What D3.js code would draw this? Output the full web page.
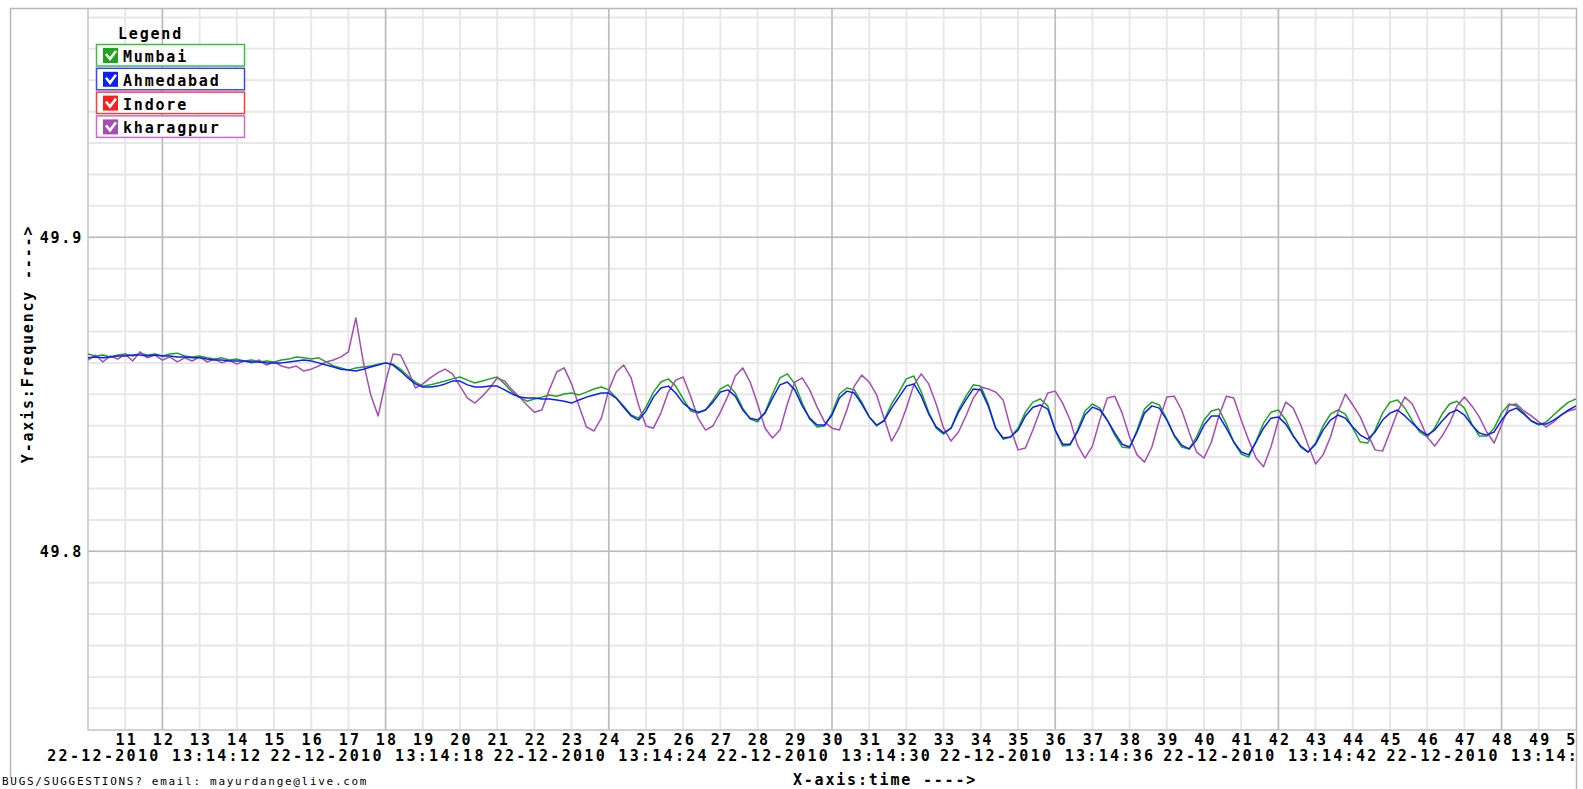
<!DOCTYPE html>
<html>
<head>
<meta charset="utf-8">
<script src="https://cdn.jsdelivr.net/npm/d3@7"></script>
<style>
  body { margin: 0; background: #fff; }
  svg text { font-family: "DejaVu Sans Mono", monospace; font-weight: bold; fill: #000; }
</style>
</head>
<body>
<script>
// samples start at this time, one every 0.2 s
var startTime = "22-12-2010 13:14:10";
var stepMs = 200;

var mumbai = [
  49.8628, 49.8622, 49.8625, 49.8619, 49.8625, 49.8628, 49.8622, 49.8631, 49.8625, 49.8628,
  49.8622, 49.8628, 49.8631, 49.8622, 49.8619, 49.8622, 49.8616, 49.8612, 49.8616, 49.8609,
  49.8612, 49.8606, 49.8609, 49.8603, 49.8606, 49.8603, 49.8609, 49.8612, 49.8619, 49.8616,
  49.8612, 49.8616, 49.8603, 49.8590, 49.8584, 49.8577, 49.8584, 49.8587, 49.8590, 49.8596,
  49.8600, 49.8596, 49.8580, 49.8558, 49.8539, 49.8526, 49.8530, 49.8536, 49.8542, 49.8549,
  49.8555, 49.8545, 49.8536, 49.8542, 49.8549, 49.8555, 49.8533, 49.8507, 49.8491, 49.8478,
  49.8485, 49.8491, 49.8498, 49.8494, 49.8501, 49.8504, 49.8498, 49.8507, 49.8517, 49.8523,
  49.8514, 49.8488, 49.8463, 49.8434, 49.8424, 49.8459, 49.8507, 49.8539, 49.8549, 49.8526,
  49.8485, 49.8447, 49.8440, 49.8450, 49.8482, 49.8517, 49.8530, 49.8504, 49.8456, 49.8421,
  49.8412, 49.8443, 49.8501, 49.8552, 49.8565, 49.8533, 49.8472, 49.8421, 49.8396, 49.8399,
  49.8440, 49.8501, 49.8520, 49.8514, 49.8475, 49.8428, 49.8399, 49.8418, 49.8469, 49.8507,
  49.8549, 49.8558, 49.8507, 49.8443, 49.8392, 49.8373, 49.8392, 49.8450, 49.8494, 49.8530,
  49.8526, 49.8469, 49.8392, 49.8357, 49.8364, 49.8392, 49.8443, 49.8475, 49.8485, 49.8463,
  49.8386, 49.8335, 49.8338, 49.8386, 49.8447, 49.8469, 49.8456, 49.8418, 49.8370, 49.8332,
  49.8329, 49.8386, 49.8453, 49.8475, 49.8466, 49.8421, 49.8367, 49.8332, 49.8326, 49.8364,
  49.8418, 49.8447, 49.8453, 49.8405, 49.8348, 49.8310, 49.8300, 49.8351, 49.8408, 49.8443,
  49.8450, 49.8418, 49.8367, 49.8332, 49.8316, 49.8345, 49.8399, 49.8437, 49.8450, 49.8437,
  49.8392, 49.8348, 49.8345, 49.8386, 49.8440, 49.8475, 49.8482, 49.8456, 49.8415, 49.8380,
  49.8364, 49.8392, 49.8437, 49.8469, 49.8478, 49.8456, 49.8405, 49.8367, 49.8367, 49.8392,
  49.8440, 49.8469, 49.8463, 49.8440, 49.8415, 49.8402, 49.8412, 49.8434, 49.8456, 49.8475,
  49.8485
];

var ahmedabad = [
  49.8616, 49.8619, 49.8616, 49.8619, 49.8622, 49.8622, 49.8625, 49.8625, 49.8622, 49.8625,
  49.8622, 49.8622, 49.8619, 49.8619, 49.8616, 49.8616, 49.8612, 49.8609, 49.8609, 49.8606,
  49.8606, 49.8606, 49.8603, 49.8603, 49.8600, 49.8600, 49.8600, 49.8603, 49.8606, 49.8609,
  49.8606, 49.8600, 49.8593, 49.8587, 49.8580, 49.8577, 49.8574, 49.8580, 49.8587, 49.8593,
  49.8600, 49.8593, 49.8574, 49.8552, 49.8533, 49.8523, 49.8523, 49.8526, 49.8533, 49.8542,
  49.8542, 49.8530, 49.8523, 49.8523, 49.8526, 49.8526, 49.8514, 49.8501, 49.8491, 49.8488,
  49.8488, 49.8485, 49.8485, 49.8482, 49.8478, 49.8472, 49.8482, 49.8491, 49.8498, 49.8504,
  49.8504, 49.8488, 49.8459, 49.8431, 49.8418, 49.8447, 49.8491, 49.8520, 49.8526, 49.8504,
  49.8472, 49.8453, 49.8443, 49.8450, 49.8475, 49.8507, 49.8514, 49.8494, 49.8450, 49.8424,
  49.8418, 49.8440, 49.8488, 49.8530, 49.8539, 49.8514, 49.8463, 49.8424, 49.8402, 49.8402,
  49.8434, 49.8488, 49.8510, 49.8504, 49.8469, 49.8428, 49.8402, 49.8415, 49.8456, 49.8491,
  49.8526, 49.8533, 49.8494, 49.8437, 49.8396, 49.8377, 49.8392, 49.8443, 49.8482, 49.8517,
  49.8514, 49.8463, 49.8392, 49.8361, 49.8364, 49.8386, 49.8431, 49.8459, 49.8466, 49.8453,
  49.8386, 49.8341, 49.8341, 49.8380, 49.8434, 49.8459, 49.8450, 49.8418, 49.8377, 49.8341,
  49.8332, 49.8380, 49.8440, 49.8463, 49.8456, 49.8418, 49.8370, 49.8338, 49.8326, 49.8354,
  49.8402, 49.8431, 49.8431, 49.8392, 49.8348, 49.8316, 49.8307, 49.8348, 49.8392, 49.8424,
  49.8428, 49.8405, 49.8367, 49.8335, 49.8316, 49.8341, 49.8386, 49.8418, 49.8434, 49.8424,
  49.8396, 49.8370, 49.8357, 49.8380, 49.8418, 49.8440, 49.8450, 49.8431, 49.8408, 49.8386,
  49.8370, 49.8386, 49.8415, 49.8440, 49.8450, 49.8434, 49.8402, 49.8377, 49.8370, 49.8380,
  49.8418, 49.8447, 49.8456, 49.8437, 49.8415, 49.8405, 49.8405, 49.8418, 49.8434, 49.8450,
  49.8463
];

var indore = [];

var kharagpur = [
  49.8609, 49.8625, 49.8603, 49.8622, 49.8612, 49.8628, 49.8606, 49.8635, 49.8616, 49.8625,
  49.8609, 49.8619, 49.8603, 49.8616, 49.8606, 49.8619, 49.8603, 49.8612, 49.8600, 49.8609,
  49.8596, 49.8606, 49.8600, 49.8609, 49.8593, 49.8603, 49.8590, 49.8584, 49.8590, 49.8574,
  49.8580, 49.8590, 49.8603, 49.8609, 49.8619, 49.8635, 49.8743, 49.8603, 49.8498, 49.8431,
  49.8539, 49.8628, 49.8625, 49.8577, 49.8520, 49.8533, 49.8552, 49.8568, 49.8580, 49.8565,
  49.8526, 49.8488, 49.8472, 49.8494, 49.8520, 49.8552, 49.8542, 49.8514, 49.8491, 49.8466,
  49.8443, 49.8450, 49.8514, 49.8571, 49.8584, 49.8533, 49.8463, 49.8396, 49.8383, 49.8424,
  49.8514, 49.8571, 49.8593, 49.8552, 49.8466, 49.8399, 49.8392, 49.8440, 49.8507, 49.8545,
  49.8555, 49.8494, 49.8424, 49.8386, 49.8399, 49.8443, 49.8494, 49.8558, 49.8584, 49.8539,
  49.8469, 49.8392, 49.8361, 49.8386, 49.8469, 49.8539, 49.8552, 49.8514, 49.8459, 49.8412,
  49.8392, 49.8386, 49.8450, 49.8526, 49.8561, 49.8539, 49.8498, 49.8424, 49.8351, 49.8392,
  49.8456, 49.8530, 49.8565, 49.8533, 49.8469, 49.8392, 49.8351, 49.8380, 49.8431, 49.8488,
  49.8523, 49.8517, 49.8507, 49.8482, 49.8392, 49.8323, 49.8329, 49.8386, 49.8450, 49.8504,
  49.8510, 49.8472, 49.8418, 49.8338, 49.8297, 49.8335, 49.8418, 49.8488, 49.8494, 49.8440,
  49.8364, 49.8307, 49.8284, 49.8332, 49.8418, 49.8491, 49.8494, 49.8450, 49.8380, 49.8316,
  49.8297, 49.8348, 49.8431, 49.8494, 49.8488, 49.8418, 49.8354, 49.8297, 49.8269, 49.8332,
  49.8418, 49.8475, 49.8456, 49.8402, 49.8338, 49.8278, 49.8307, 49.8364, 49.8443, 49.8501,
  49.8466, 49.8428, 49.8373, 49.8323, 49.8319, 49.8380, 49.8443, 49.8491, 49.8469, 49.8418,
  49.8364, 49.8335, 49.8367, 49.8408, 49.8463, 49.8491, 49.8463, 49.8428, 49.8380, 49.8345,
  49.8402, 49.8466, 49.8469, 49.8447, 49.8431, 49.8412, 49.8396, 49.8412, 49.8434, 49.8447,
  49.8453
];

var seriesNames = ["Mumbai", "Ahmedabad", "Indore", "kharagpur"];
var seriesColors = ["#1ea51e", "#0a1eff", "#ff1e1e", "#a64db3"];
var legendBorders = ["#3cbf3c", "#3c46ff", "#ff3c3c", "#c070c8"];

// tick seconds (13:14:ss), date labels every 6 s
var secondTicks = [11, 12, 13, 14, 15, 16, 17, 18, 19, 20, 21, 22, 23, 24, 25, 26, 27, 28, 29, 30,
                   31, 32, 33, 34, 35, 36, 37, 38, 39, 40, 41, 42, 43, 44, 45, 46, 47, 48, 49, 50];
var dateTicks = [12, 18, 24, 30, 36, 42, 48];
var yLabels = [49.8, 49.9];

var margin = {top: 8, right: 7, bottom: 59, left: 88},
    W = 1583, H = 789,
    plotW = W - margin.left - margin.right,
    plotH = H - margin.top - margin.bottom;

var parseTime = d3.timeParse("%d-%m-%Y %H:%M:%S");
var t0 = parseTime(startTime);
function atSec(s) { return new Date(t0.getTime() + (s - 10) * 1000); }

var x = d3.scaleTime().domain([t0, atSec(50)]).range([margin.left, margin.left + plotW]);
var y = d3.scaleLinear().domain([49.7431, 49.9730]).range([margin.top + plotH, margin.top]);

var svg = d3.select("body").append("svg")
  .attr("width", W)
  .attr("height", H);

svg.append("rect").attr("width", W).attr("height", H).attr("fill", "#fff");

svg.append("clipPath").attr("id", "plotClip")
  .append("rect")
  .attr("x", margin.left).attr("y", margin.top)
  .attr("width", plotW).attr("height", plotH);

svg.append("clipPath").attr("id", "labelClip")
  .append("rect")
  .attr("x", 0).attr("y", 0)
  .attr("width", margin.left + plotW).attr("height", H);

//minor grid
var grid = svg.append("g");
grid.selectAll(".vminor")
  .data(secondTicks.slice(0, -1))
  .enter().append("line")
  .attr("x1", function(d) { return x(atSec(d)); })
  .attr("x2", function(d) { return x(atSec(d)); })
  .attr("y1", margin.top).attr("y2", margin.top + plotH)
  .attr("stroke", "#e8e8e8").attr("stroke-width", 2);

var hminor = d3.range(4975, 4998).map(function(d) { return d / 100; });
grid.selectAll(".hminor")
  .data(hminor)
  .enter().append("line")
  .attr("x1", margin.left).attr("x2", margin.left + plotW)
  .attr("y1", function(d) { return y(d); })
  .attr("y2", function(d) { return y(d); })
  .attr("stroke", "#e8e8e8").attr("stroke-width", 2);

//major grid
grid.selectAll(".vmajor")
  .data(dateTicks)
  .enter().append("line")
  .attr("x1", function(d) { return x(atSec(d)); })
  .attr("x2", function(d) { return x(atSec(d)); })
  .attr("y1", margin.top).attr("y2", margin.top + plotH)
  .attr("stroke", "#bcbcbc").attr("stroke-width", 1.5);

grid.selectAll(".hmajor")
  .data(yLabels)
  .enter().append("line")
  .attr("x1", margin.left).attr("x2", margin.left + plotW)
  .attr("y1", function(d) { return y(d); })
  .attr("y2", function(d) { return y(d); })
  .attr("stroke", "#bcbcbc").attr("stroke-width", 1.5);

//frames
svg.append("path")
  .attr("d", "M10.5,778 V8.5 H1576.5 V789")
  .attr("fill", "none").attr("stroke", "#b8b8b8").attr("stroke-width", 1.5);
svg.append("path")
  .attr("d", "M" + margin.left + "," + margin.top + " V" + (margin.top + plotH) + " H" + (margin.left + plotW))
  .attr("fill", "none").attr("stroke", "#c4c4c4").attr("stroke-width", 1.5);

//lines
var line = d3.line()
  .x(function(d, i) { return x(new Date(t0.getTime() + i * stepMs)); })
  .y(function(d) { return y(d); });

var drawOrder = [
  {data: mumbai, color: seriesColors[0]},
  {data: kharagpur, color: seriesColors[3]},
  {data: indore, color: seriesColors[2]},
  {data: ahmedabad, color: seriesColors[1]}
];
var lines = svg.append("g").attr("clip-path", "url(#plotClip)");
drawOrder.forEach(function(s) {
  if (!s.data.length) return;
  lines.append("path")
    .datum(s.data)
    .attr("fill", "none")
    .attr("stroke", s.color)
    .attr("stroke-width", 1.5)
    .attr("stroke-linejoin", "round")
    .attr("d", line);
});

//x axis: seconds row
var xSec = d3.axisBottom(x)
  .tickValues(secondTicks.map(atSec))
  .tickFormat(d3.timeFormat("%S"))
  .tickSize(0).tickPadding(0);
var gx1 = svg.append("g")
  .attr("clip-path", "url(#labelClip)")
  .attr("transform", "translate(0," + (margin.top + plotH) + ")")
  .call(xSec);
gx1.select(".domain").remove();
gx1.selectAll("text")
  .attr("y", 15).attr("dy", 0)
  .attr("dx", "1px")
  .style("font-family", "DejaVu Sans Mono")
  .style("font-weight", "bold")
  .style("font-size", "15px")
  .style("letter-spacing", "2.2px")
  .attr("fill", "#000");

//x axis: date row
var xDate = d3.axisBottom(x)
  .tickValues(dateTicks.map(atSec))
  .tickFormat(d3.timeFormat("%d-%m-%Y %H:%M:%S"))
  .tickSize(0).tickPadding(0);
var gx2 = svg.append("g")
  .attr("clip-path", "url(#labelClip)")
  .attr("transform", "translate(0," + (margin.top + plotH) + ")")
  .call(xDate);
gx2.select(".domain").remove();
gx2.selectAll("text")
  .attr("y", 31).attr("dy", 0)
  .attr("dx", "-8px")
  .style("font-family", "DejaVu Sans Mono")
  .style("font-weight", "bold")
  .style("font-size", "15px")
  .style("letter-spacing", "2.3px")
  .attr("fill", "#000");

//y axis
var gy = svg.append("g")
  .attr("transform", "translate(" + margin.left + ",0)")
  .call(d3.axisLeft(y).tickValues(yLabels).tickFormat(d3.format(".1f")).tickSize(0).tickPadding(5));
gy.select(".domain").remove();
gy.selectAll("text")
  .attr("dy", "0.36em")
  .style("font-family", "DejaVu Sans Mono")
  .style("font-weight", "bold")
  .style("font-size", "15px")
  .style("letter-spacing", "1.8px")
  .attr("fill", "#000");

//axis titles
svg.append("text")
  .attr("transform", "translate(33,344) rotate(-90)")
  .attr("text-anchor", "middle")
  .style("font-size", "15px")
  .style("letter-spacing", "1.8px")
  .text("Y-axis:Frequency ---->");

svg.append("text")
  .attr("x", 885).attr("y", 785)
  .attr("text-anchor", "middle")
  .style("font-size", "15px")
  .style("letter-spacing", "1.8px")
  .text("X-axis:time ---->");

svg.append("text")
  .attr("x", 2).attr("y", 785)
  .style("font-size", "11px")
  .style("font-weight", "normal")
  .style("letter-spacing", "1.7px")
  .text("BUGS/SUGGESTIONS? email: mayurdange@live.com");

//legend
var legend = svg.append("g").attr("transform", "translate(96,44)");
legend.append("text")
  .attr("x", 22).attr("y", -5)
  .style("font-size", "15px")
  .style("letter-spacing", "1.8px")
  .text("Legend");

var item = legend.selectAll(".item")
  .data(seriesNames)
  .enter().append("g")
  .attr("transform", function(d, i) { return "translate(0," + (i * 23.8) + ")"; });

item.append("rect")
  .attr("x", 0.5).attr("y", 0.5)
  .attr("width", 148).attr("height", 21.5)
  .attr("fill", "#fff")
  .attr("stroke", function(d, i) { return legendBorders[i]; })
  .attr("stroke-width", 1.5);

item.append("rect")
  .attr("x", 7).attr("y", 4)
  .attr("width", 15).attr("height", 15)
  .attr("fill", function(d, i) { return seriesColors[i]; });

item.append("path")
  .attr("d", "M10,10 L14,15 L20,7")
  .attr("fill", "none")
  .attr("stroke", "#fff")
  .attr("stroke-width", 2.6);

item.append("text")
  .attr("x", 27).attr("y", 18)
  .style("font-size", "15px")
  .style("letter-spacing", "1.8px")
  .text(function(d) { return d; });
</script>
</body>
</html>
